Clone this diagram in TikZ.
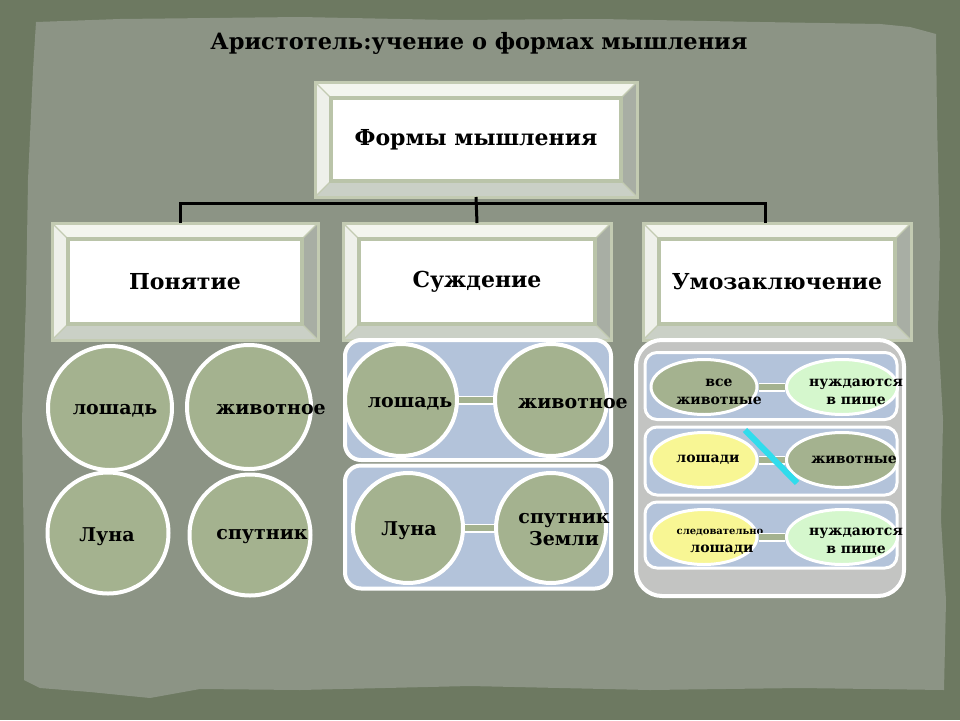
\documentclass[tikz,border=0pt]{standalone}
\usepackage{fontspec}
\setmainfont{DejaVu Serif}
\usetikzlibrary{shapes.geometric,calc}
\definecolor{frameC}{HTML}{6D7961}
\definecolor{paperC}{HTML}{8C9485}
\definecolor{sageC}{HTML}{A4B28F}
\definecolor{blueC}{HTML}{B3C3DA}
\definecolor{grayC}{HTML}{C3C4C2}
\definecolor{yellowC}{HTML}{F8F694}
\definecolor{lgreenC}{HTML}{D5F7CD}
\definecolor{bvtopC}{HTML}{F3F5EE}
\definecolor{bvleftC}{HTML}{EEF0EA}
\definecolor{bvrightC}{HTML}{A8AEA4}
\definecolor{bvbotC}{HTML}{CAD0C6}
\definecolor{bvedgeC}{HTML}{C3CBB2}
\definecolor{bvinC}{HTML}{BAC4A9}
\definecolor{cyanC}{HTML}{30DCEC}
\newcommand{\fsz}[1]{\fontsize{#1}{#1}\selectfont}
\newcommand{\bevelbox}[6]{%
 \fill[bvtopC] (#2,#3) -- (#4,#3) -- ({#4-16},{#3+16}) -- ({#2+16},{#3+16}) -- cycle;
 \fill[bvleftC] (#2,#3) -- ({#2+16},{#3+16}) -- ({#2+16},{#5-16}) -- (#2,#5) -- cycle;
 \fill[bvrightC] (#4,#3) -- (#4,#5) -- ({#4-16},{#5-16}) -- ({#4-16},{#3+16}) -- cycle;
 \fill[bvbotC] (#2,#5) -- (#4,#5) -- ({#4-16},{#5-16}) -- ({#2+16},{#5-16}) -- cycle;
 \fill[white] ({#2+16},{#3+16}) rectangle ({#4-16},{#5-16});
 \draw[bvedgeC, line width=1.2] (#2,#3) -- ({#2+16},{#3+16}) (#4,#3) -- ({#4-16},{#3+16})
   (#2,#5) -- ({#2+16},{#5-16}) (#4,#5) -- ({#4-16},{#5-16});
 \draw[bvinC, line width=4] ({#2+16},{#3+16}) rectangle ({#4-16},{#5-16});
 \draw[bvedgeC, line width=3] (#2,#3) rectangle (#4,#5);
 \node[boxtxt, minimum width={#4-#2}, minimum height={#5-#3}] (#1) at ({(#2+#4)/2},{(#3+#5)/2}) {#6};
}
\tikzset{
 boxtxt/.style={inner sep=0, outer sep=0, font=\bfseries\fsz{22}},
 conn/.style={draw=black, line width=3},
 circ/.style={circle, fill=sageC, draw=white, line width=4, inner sep=0},
 ctxt/.style={font=\bfseries\fsz{19}, align=center, inner sep=0},
 bluebox/.style={rectangle, rounded corners=16, fill=blueC, draw=white, line width=4, inner sep=0},
 graybox/.style={rectangle, rounded corners=26, fill=grayC, draw=white, line width=4, inner sep=0},
 rowbox/.style={rectangle, rounded corners=12, fill=blueC, draw=white, line width=3, inner sep=0},
 ell/.style={ellipse, draw=white, line width=3, minimum width=106, minimum height=55, inner sep=0},
 bar/.style={draw=white, line width=1.5, double=sageC, double distance=6},
 rtxt/.style={font=\bfseries\fsz{14}, align=center, inner sep=0},
}
\begin{document}
\begin{tikzpicture}[x=1pt,y=-1pt]
\useasboundingbox (0,0) rectangle (960,720);
\fill[frameC] (0,0) rectangle (960,720);
\fill[paperC] (36,22) -- (120,19) -- (300,17) -- (450,20) -- (600,19) -- (760,22) -- (880,24) -- (910,27)
 -- (936,34) -- (937,120) -- (940,250) -- (938,330) -- (943,420) -- (941,520) -- (946,600) -- (944,690)
 -- (800,688) -- (650,690) -- (470,686) -- (300,690) -- (200,689) -- (150,698) -- (90,692) -- (40,688)
 -- (24,680) -- (24,560) -- (22,420) -- (26,300) -- (28,180) -- (33,70) -- cycle;

\node[font=\bfseries\fsz{22.5}, inner sep=0] (title) at (479,43) {Аристотель:учение о формах мышления};

\bevelbox{forms}{315}{82}{637}{197}{Формы мышления}
\bevelbox{pon}{52}{223}{318}{340}{Понятие}
\bevelbox{sud}{343}{223}{611}{340}{Суждение}
\bevelbox{umo}{643}{223}{911}{340}{Умозаключение}

\coordinate (bus) at (473,203);
\draw[conn] (forms.south) -- (sud.north);
\draw[conn] ($(pon.north)+(-5,0)$) |- (bus) -| ($(umo.north)+(-12,0)$);

% left column
\node[circ, minimum size=124] (c1) at (110,408) {};
\node[circ, minimum size=124] (c2) at (249,407) {};
\node[circ, minimum size=121] (c3) at (108,533) {};
\node[circ, minimum size=121] (c4) at (250,535) {};
\node[ctxt] (t1) at (115,411) {лошадь};
\node[ctxt] (t2) at (271,410) {животное};
\node[ctxt] (t3) at (107,537) {Луна};
\node[ctxt] (t4) at (262,537) {спутник};

% middle column
\node[bluebox, minimum width=266, minimum height=120] (sb1) at (478,400) {};
\node[bluebox, minimum width=266, minimum height=123] (sb2) at (478,527) {};
\node[circ, minimum size=112] (m1) at (401,400) {};
\node[circ, minimum size=112] (m2) at (551,400) {};
\node[circ, minimum size=110] (m3) at (408,528) {};
\node[circ, minimum size=110] (m4) at (551,528) {};
\draw[bar] (m1.east) -- (m2.west);
\draw[bar] (m3.east) -- (m4.west);
\node[ctxt] (t5) at (410,404) {лошадь};
\node[ctxt] (t6) at (573,404) {животное};
\node[ctxt] (t7) at (409,531) {Луна};
\node[ctxt] (t8) at (564,530) {спутник\\[3pt]Земли};

% right column
\node[graybox, minimum width=268, minimum height=256] (gb) at (770,468) {};
\node[rowbox, minimum width=252, minimum height=67] (r1) at (771,386) {};
\node[rowbox, minimum width=252, minimum height=68] (r2) at (771,461) {};
\node[rowbox, minimum width=252, minimum height=66] (r3) at (771,535) {};
\node[ell, fill=sageC] (e1) at (704,387) {};
\node[ell, fill=lgreenC, minimum width=111] (e2) at (842,387) {};
\node[ell, fill=yellowC] (e3) at (704,460) {};
\node[ell, fill=sageC, minimum width=111] (e4) at (842,460) {};
\node[ell, fill=yellowC] (e5) at (704,537) {};
\node[ell, fill=lgreenC, minimum width=111] (e6) at (842,537) {};
\draw[bar] (e1.east) -- (e2.west);
\draw[bar] (e3.east) -- (e4.west);
\coordinate (cy1) at (745,430);
\coordinate (cy2) at (797,483);
\draw[cyanC, line width=6] (cy1) -- (cy2);
\node[rtxt] (u1) at (719,392) {все\\[4pt]животные};
\node[rtxt] (u2) at (856,393) {нуждаются\\[4pt]в пище};
\node[rtxt] (u3) at (708,460) {лошади};
\node[rtxt] (u4) at (854,460) {животные};
\node[rtxt, font=\bfseries\fsz{10}] (u5) at (720,533) {следовательно};
\node[rtxt] (u6) at (722,550) {лошади};
\node[rtxt] (u7) at (856,542) {нуждаются\\[4pt]в пище};
\draw[bar] (e5.east) -- (e6.west);
\end{tikzpicture}
\end{document}
